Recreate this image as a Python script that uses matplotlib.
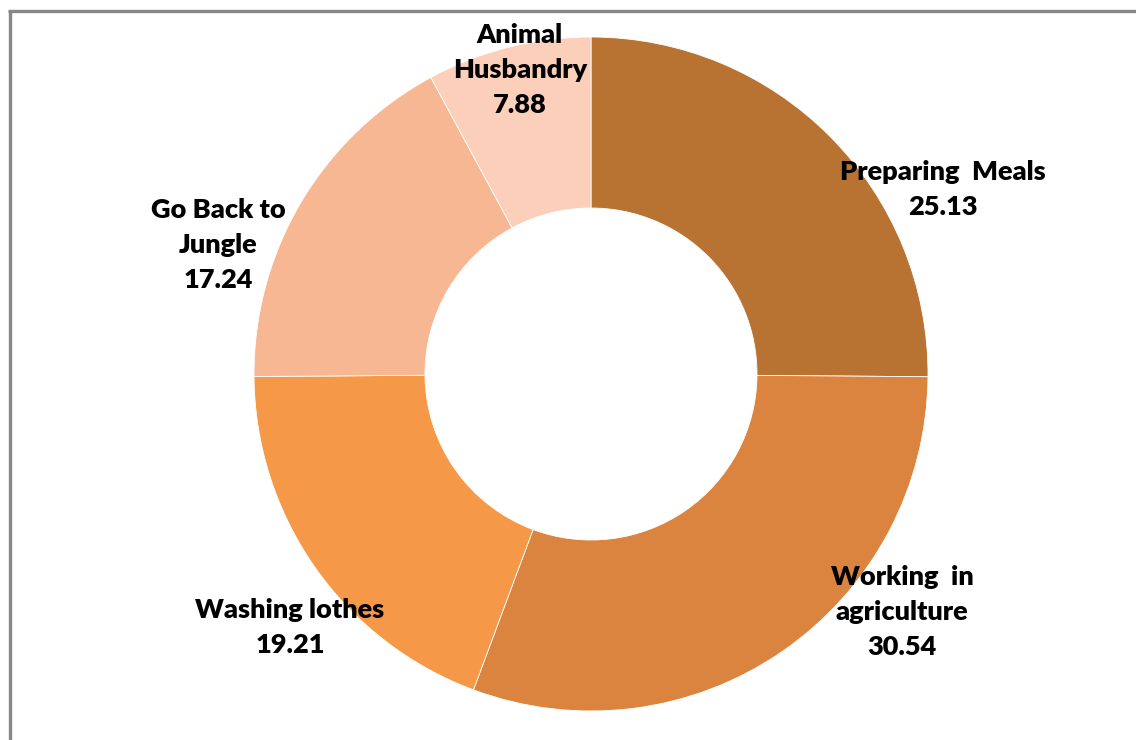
import matplotlib
matplotlib.use("Agg")
import matplotlib.pyplot as plt
from matplotlib.lines import Line2D

# Share of time spent on daily activities (%)
categories = ["Preparing  Meals", "Working  in\nagriculture", "Washing lothes",
              "Go Back to\nJungle", "Animal\nHusbandry"]
values = [25.13, 30.54, 19.21, 17.24, 7.88]
colors = ["#B87333", "#DB843F", "#F59847", "#F8B793", "#FBCFB9"]

# label anchor points (data units, pie radius = 1)
label_xy = [(1.045, 0.546), (0.923, -0.706), (-0.893, -0.751),
            (-1.107, 0.383), (-0.211, 0.902)]

W, H = 1136, 740
fig = plt.figure(figsize=(W / 100, H / 100), dpi=100)
fig.patch.set_facecolor("white")

cx, cy, R = 591, 374, 337
ax = fig.add_axes([(cx - R) / W, 1 - (cy + R) / H, 2 * R / W, 2 * R / H])
ax.set_xlim(-1, 1)
ax.set_ylim(-1, 1)
ax.set_aspect("equal")
ax.axis("off")

ax.pie(values, colors=colors, startangle=90, counterclock=False, radius=1,
       wedgeprops=dict(width=1 - 166 / 337, edgecolor="white", linewidth=0.6))
ax.set_xlim(-1, 1)
ax.set_ylim(-1, 1)

for name, val, (x, y) in zip(categories, values, label_xy):
    ax.text(x, y, f"{name}\n{val:.2f}", ha="center", va="center",
            fontsize=19.5, fontweight="heavy", family="Lato", color="black",
            linespacing=1.55, clip_on=False)

# chart frame
border = "#878787"
fig.add_artist(Line2D([9.5 / W, 9.5 / W], [1 - 11 / H, 0], transform=fig.transFigure,
                      color=border, linewidth=2.4, solid_capstyle="butt"))
fig.add_artist(Line2D([8.3 / W, 1], [1 - 11 / H, 1 - 11 / H], transform=fig.transFigure,
                      color=border, linewidth=2.4, solid_capstyle="butt"))

fig.savefig("out.png", dpi=100, facecolor="white")
